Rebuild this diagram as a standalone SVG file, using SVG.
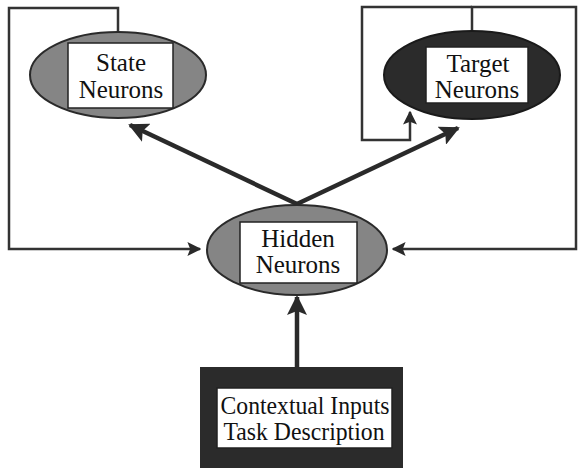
<svg xmlns="http://www.w3.org/2000/svg" width="579" height="468" viewBox="0 0 579 468">
<style>
.lbl{font-family:"Liberation Serif","Times New Roman",serif;font-size:25px;fill:#111;text-anchor:middle}
.box{fill:#fff;stroke:#222;stroke-width:1.5}
.fb{fill:none;stroke:#333;stroke-width:2.5}
.main{fill:none;stroke:#2a2a2a;stroke-width:4.5}
.gray{fill:#858585;stroke:#2a2a2a;stroke-width:2}
</style>
<defs>
<marker id="ah" viewBox="0 0 10 10" refX="9" refY="5" markerWidth="14" markerHeight="14" markerUnits="userSpaceOnUse" orient="auto">
<path d="M0,0 L10,5 L0,10 L2,5 Z" fill="#2a2a2a"/>
</marker>
<marker id="ahb" viewBox="0 0 10 10" refX="9" refY="5" markerWidth="20" markerHeight="20" markerUnits="userSpaceOnUse" orient="auto">
<path d="M0,0 L10,5 L0,10 L2,5 Z" fill="#2a2a2a"/>
</marker>
</defs>
<rect width="579" height="468" fill="#fff"/>
<g id="connectors">
<path class="fb" d="M118,32 V8 H9 V249 H200" marker-end="url(#ah)"/>
<path class="fb" d="M472,31 V7 H576 V249 H393" marker-end="url(#ah)"/>
<path class="fb" d="M472,7 H362 V140 H410 V112" marker-end="url(#ah)"/>
<path class="main" d="M297,204 L130,125" marker-end="url(#ahb)"/>
<path class="main" d="M297,204 L458,128" marker-end="url(#ahb)"/>
<path class="main" d="M297,367 V297" marker-end="url(#ahb)"/>
</g>
<g id="state">
<ellipse class="gray" cx="118" cy="75" rx="88" ry="43"/>
<rect class="box" x="68" y="43" width="105" height="65"/>
<text class="lbl" x="121" y="71">State</text>
<text class="lbl" x="121" y="98">Neurons</text>
</g>
<g id="target">
<ellipse cx="472" cy="75" rx="88" ry="44" fill="#2b2b2b" stroke="#1a1a1a" stroke-width="2"/>
<rect class="box" x="426" y="47" width="102" height="56"/>
<text class="lbl" x="478" y="72">Target</text>
<text class="lbl" x="477" y="98">Neurons</text>
</g>
<g id="hidden">
<ellipse class="gray" cx="297" cy="250" rx="90" ry="45"/>
<rect class="box" x="240" y="222" width="117" height="61"/>
<text class="lbl" x="298" y="247">Hidden</text>
<text class="lbl" x="298" y="273">Neurons</text>
</g>
<g id="context">
<rect x="200" y="367" width="203" height="101" fill="#2b2b2b"/>
<rect class="box" x="217" y="388" width="175" height="60"/>
<text class="lbl" x="305" y="414" textLength="169" lengthAdjust="spacingAndGlyphs">Contextual Inputs</text>
<text class="lbl" x="304" y="440" textLength="161" lengthAdjust="spacingAndGlyphs">Task Description</text>
</g>
</svg>
